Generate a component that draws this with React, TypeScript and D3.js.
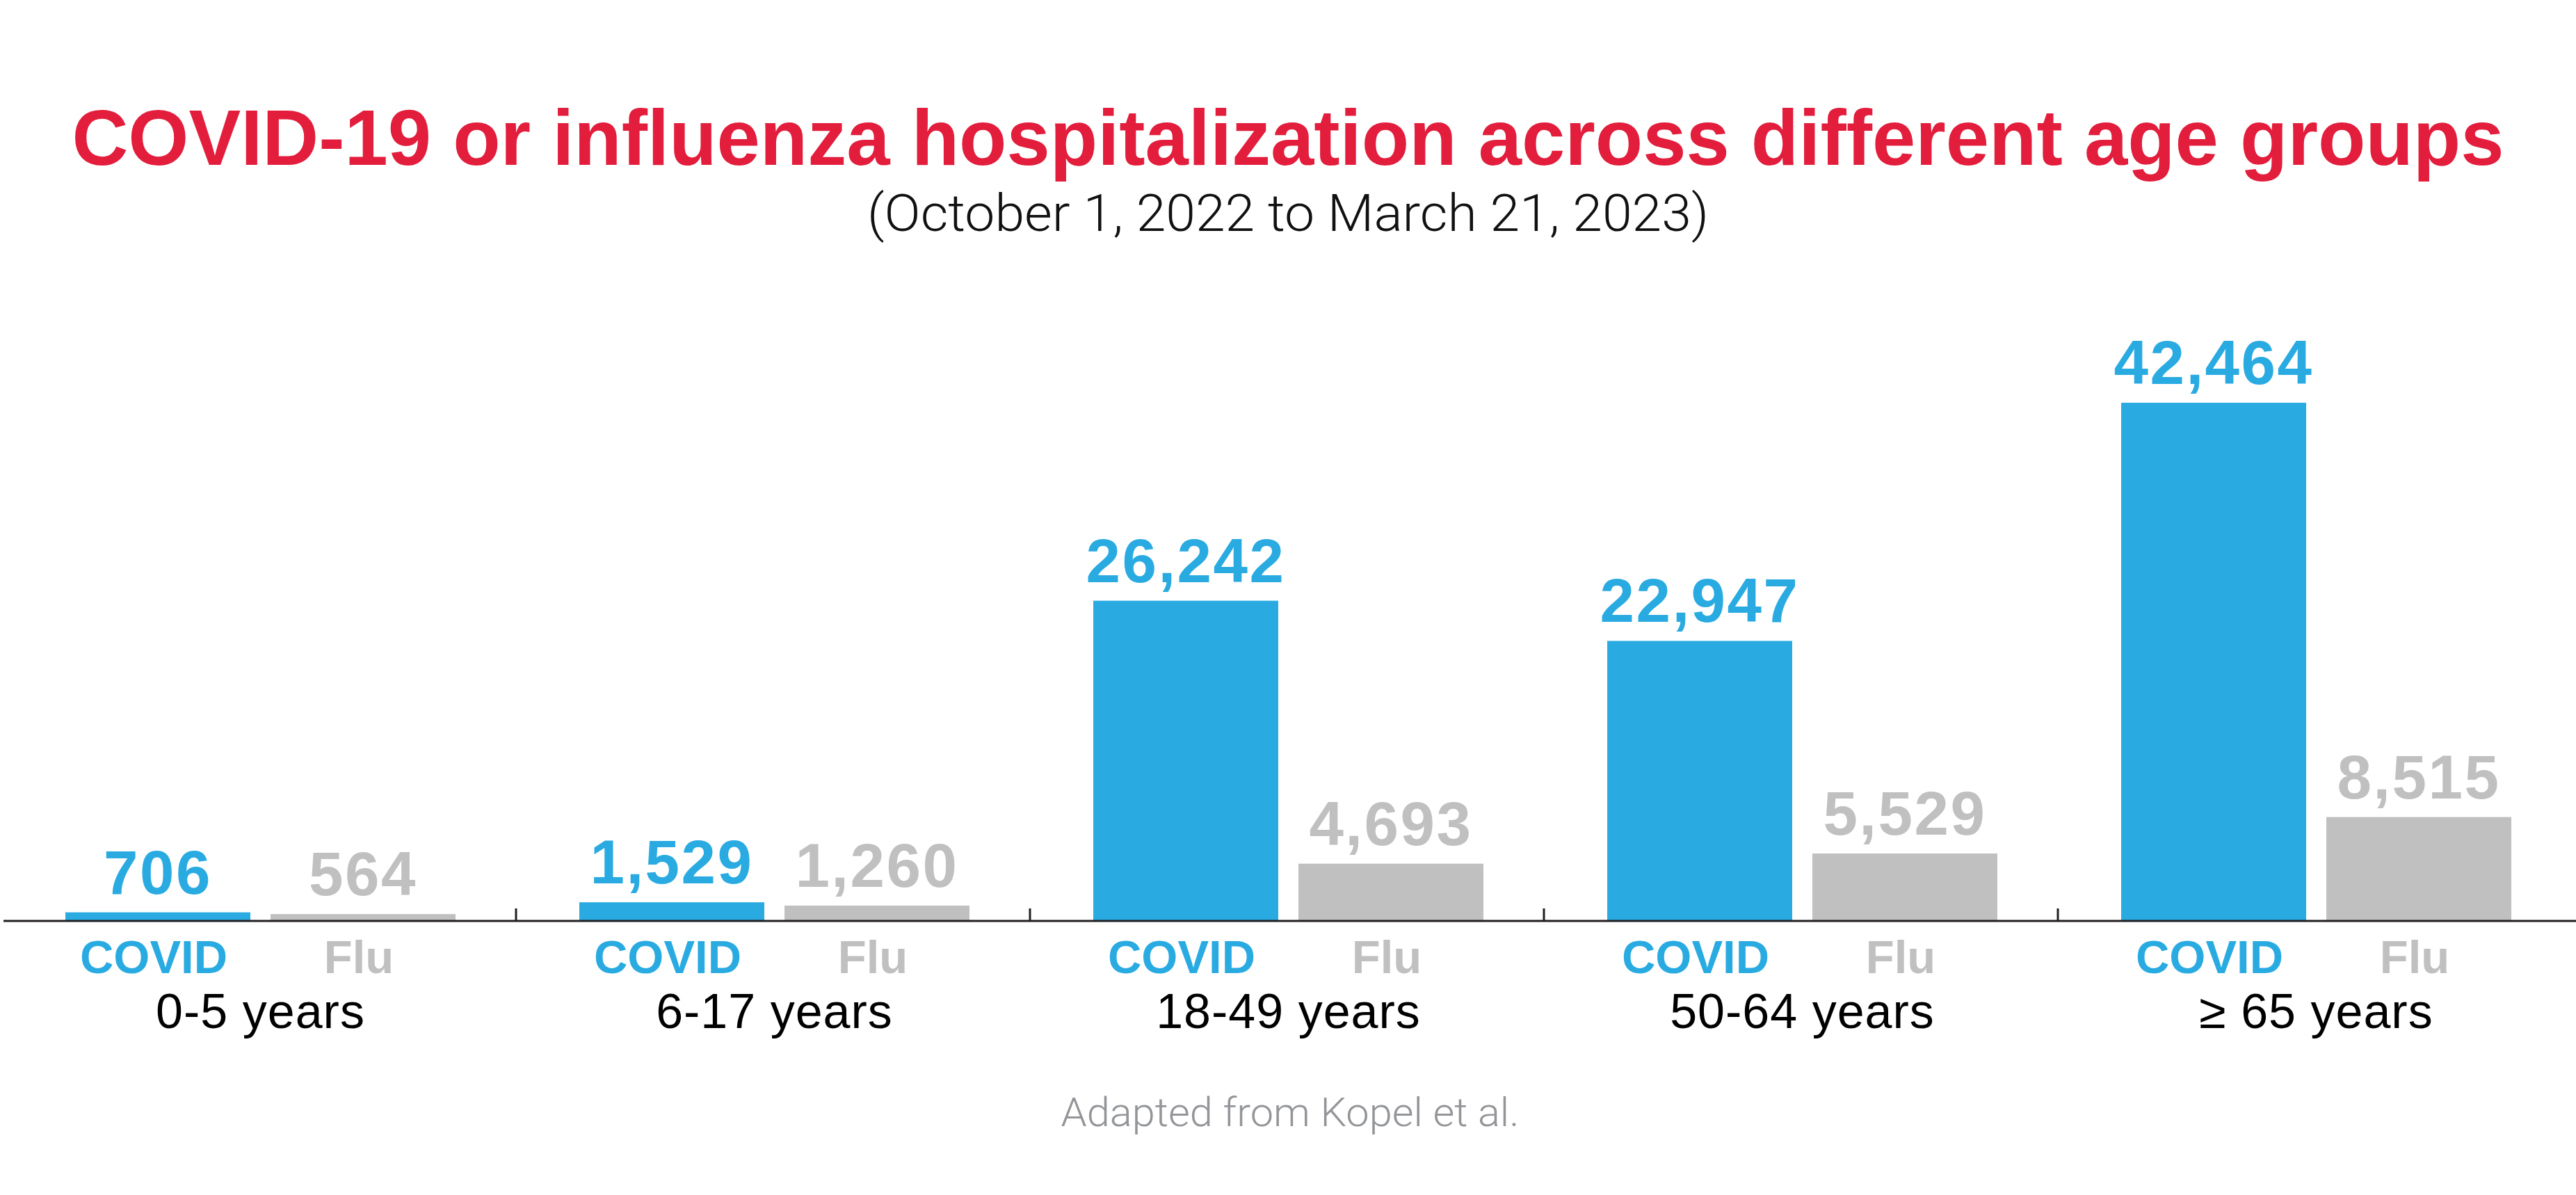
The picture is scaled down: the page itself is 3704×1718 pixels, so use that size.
import React from "react";
import * as d3 from "d3";

const groups = ["0-5 years", "6-17 years", "18-49 years", "50-64 years", "≥ 65 years"];
const seriesNames = ["COVID", "Flu"];
const covidValues = [706, 1529, 26242, 22947, 42464];
const fluValues = [564, 1260, 4693, 5529, 8515];

const W = 3704;
const H = 1718;
const BLUE = "#29ABE2";
const GRAY = "#C0C0C0";
const RED = "#E31D3C";
const SANS = "'Liberation Sans', Arial, Helvetica, sans-serif";

export default function App() {
  const baseline = 1324;
  const x0 = d3.scaleBand<string>().domain(groups).range([3, 3698]).padding(0);
  const x1 = d3
    .scaleBand<string>()
    .domain(seriesNames)
    .range([91, 652])
    .paddingInner(0.0983)
    .paddingOuter(0);
  const y = d3.scaleLinear().domain([0, 42464]).range([baseline, 579]);
  const fmt = d3.format(",");
  const colors: Record<string, string> = { COVID: BLUE, Flu: GRAY };

  const rows = groups.map((g, i) => ({ g, vals: [covidValues[i], fluValues[i]] }));
  const tickXs = groups.slice(1).map((g) => x0(g)!);

  return (
    <svg
      width={W}
      height={H}
      viewBox={`0 0 ${W} ${H}`}
      style={{ position: "absolute", left: 0, top: 0, display: "block", background: "#fff" }}
    >
      <rect x={0} y={0} width={W} height={H} fill="#fff" />
      <text
        x={W / 2}
        y={237}
        textAnchor="middle"
        fontFamily={SANS}
        fontWeight={700}
        fontSize={114}
        fill={RED}
        textLength={3497}
        lengthAdjust="spacingAndGlyphs"
      >
        COVID-19 or influenza hospitalization across different age groups
      </text>
      <text
        x={W / 2}
        y={332}
        textAnchor="middle"
        fontFamily="Roboto, 'Liberation Sans', sans-serif"
        fontWeight={300}
        fontSize={75}
        fill="#111"
        textLength={1210}
        lengthAdjust="spacingAndGlyphs"
      >
        (October 1, 2022 to March 21, 2023)
      </text>

      {rows.map((r) => (
        <g key={r.g} transform={`translate(${x0(r.g)},0)`}>
          {seriesNames.map((s, j) => {
            const v = r.vals[j];
            const bx = x1(s)!;
            const bw = x1.bandwidth();
            return (
              <g key={s}>
                <rect x={bx} y={y(v)} width={bw} height={baseline - y(v)} fill={colors[s]} />
                <text
                  x={bx + bw / 2}
                  y={y(v) - 27}
                  textAnchor="middle"
                  fontFamily={SANS}
                  fontWeight={700}
                  fontSize={89}
                  letterSpacing={2.5}
                  fill={colors[s]}
                >
                  {fmt(v)}
                </text>
                <text
                  x={bx + bw / 2 - 6}
                  y={1399}
                  textAnchor="middle"
                  fontFamily={SANS}
                  fontWeight={700}
                  fontSize={67}
                  fill={colors[s]}
                >
                  {s}
                </text>
              </g>
            );
          })}
          <text
            x={(x1("COVID")! + x1("Flu")! + x1.bandwidth()) / 2}
            y={1478}
            textAnchor="middle"
            fontFamily={SANS}
            fontWeight={400}
            fontSize={70}
            letterSpacing={1}
            fill="#000"
          >
            {r.g}
          </text>
        </g>
      ))}

      <line x1={5} x2={W} y1={baseline} y2={baseline} stroke="#231F20" strokeWidth={3} />
      {tickXs.map((tx, i) => (
        <line key={i} x1={tx} x2={tx} y1={baseline - 18} y2={baseline} stroke="#231F20" strokeWidth={3} />
      ))}

      <text
        x={1855}
        y={1619}
        textAnchor="middle"
        fontFamily="Roboto, 'Liberation Sans', sans-serif"
        fontWeight={300}
        fontSize={57}
        fill="#939598"
        textLength={659}
        lengthAdjust="spacingAndGlyphs"
      >
        Adapted from Kopel et al.
      </text>
    </svg>
  );
}
